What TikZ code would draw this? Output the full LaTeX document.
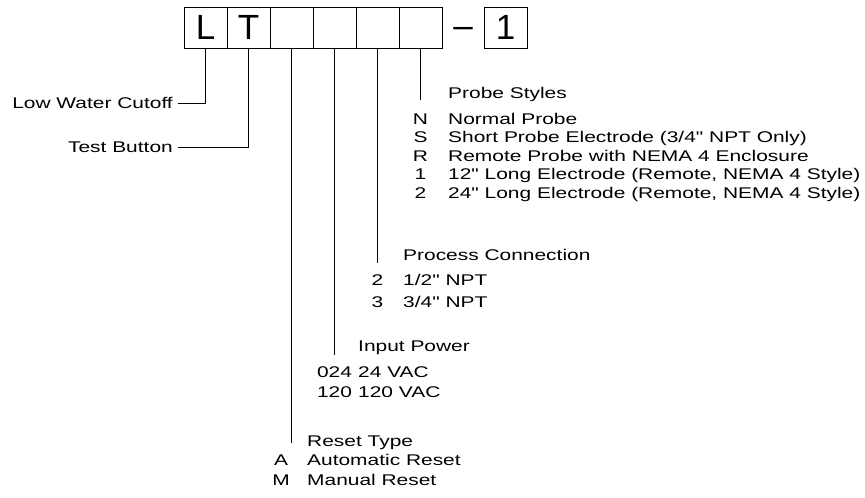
\documentclass[tikz,border=0pt]{standalone}
\usepackage{fontspec}
\setmainfont{Liberation Sans}
\newfontfamily\keyfont{Liberation Sans}[FakeStretch=1.35]
\tikzset{
  cell/.style={draw,line width=1pt,minimum width=43pt,minimum height=41pt,inner sep=0pt,font=\fontsize{35}{35}\selectfont},
  dashmark/.style={inner sep=0pt,anchor=base,font=\fontsize{35}{35}\selectfont},
  lead/.style={line width=0.8pt},
  txt/.style={inner sep=0pt,anchor=base west,font=\keyfont\fontsize{15.5}{18}\selectfont},
  key/.style={inner sep=0pt,anchor=base,font=\keyfont\fontsize{15.5}{18}\selectfont}
}
\begin{document}
\begin{tikzpicture}[x=1pt,y=-1pt]
\useasboundingbox (0,0) rectangle (865,498);
% model code boxes
\node[cell] (b1) at (205.5,27.5) {L};
\node[cell] (b2) at (248.5,27.5) {T};
\foreach \i in {3,...,6}{\node[cell] (b\i) at (162.5+43*\i,27.5) {};}
\node[dashmark] (dash) at (463,37.5) {\textendash};
\node[cell] (b7) at (505.5,27.5) {1};
% fixed letters
\node[txt,anchor=base east,inner xsep=5pt] (lwc) at (178,108.5) {Low Water Cutoff};
\node[txt,anchor=base east,inner xsep=5pt] (tb) at (178,152.5) {Test Button};
\draw[lead] (b1.south) |- (lwc.east);
\draw[lead] (b2.south) |- (tb.east);
% probe styles
\coordinate (e6) at (420.5,100);
\draw[lead] (b6.south) -- (e6);
\node[txt] (ps) at (448,98.5) {Probe Styles};
\foreach \k/\t [count=\i] in {N/{Normal Probe},S/{Short Probe Electrode (3/4" NPT Only)},R/{Remote Probe with NEMA 4 Enclosure},1/{12" Long Electrode (Remote, NEMA 4 Style)},2/{24" Long Electrode (Remote, NEMA 4 Style)}}{
  \node[key] (psk\i) at (420.5,105.5+18.5*\i) {\k};
  \node[txt] (pst\i) at (448,105.5+18.5*\i) {\t};
}
% process connection
\coordinate (e5) at (377.5,263);
\draw[lead] (b5.south) -- (e5);
\node[txt] (pc) at (403,260) {Process Connection};
\foreach \k/\t [count=\i] in {2/{1/2" NPT},3/{3/4" NPT}}{
  \node[key] (pck\i) at (377.5,264+21.5*\i) {\k};
  \node[txt] (pct\i) at (403,264+21.5*\i) {\t};
}
% input power
\coordinate (e4) at (334.5,355);
\draw[lead] (b4.south) -- (e4);
\node[txt] (ip) at (358,351.5) {Input Power};
\foreach \k/\t [count=\i] in {024/{24 VAC},120/{120 VAC}}{
  \node[key] (ipk\i) at (334.5,357.5+20*\i) {\k};
  \node[txt] (ipt\i) at (358,357.5+20*\i) {\t};
}
% reset type
\coordinate (e3) at (291.5,443);
\draw[lead] (b3.south) -- (e3);
\node[txt] (rt) at (307,446) {Reset Type};
\foreach \k/\t [count=\i] in {A/{Automatic Reset},M/{Manual Reset}}{
  \node[key] (rtk\i) at (281,446+19.5*\i) {\k};
  \node[txt] (rtt\i) at (307,446+19.5*\i) {\t};
}
\end{tikzpicture}
\end{document}
